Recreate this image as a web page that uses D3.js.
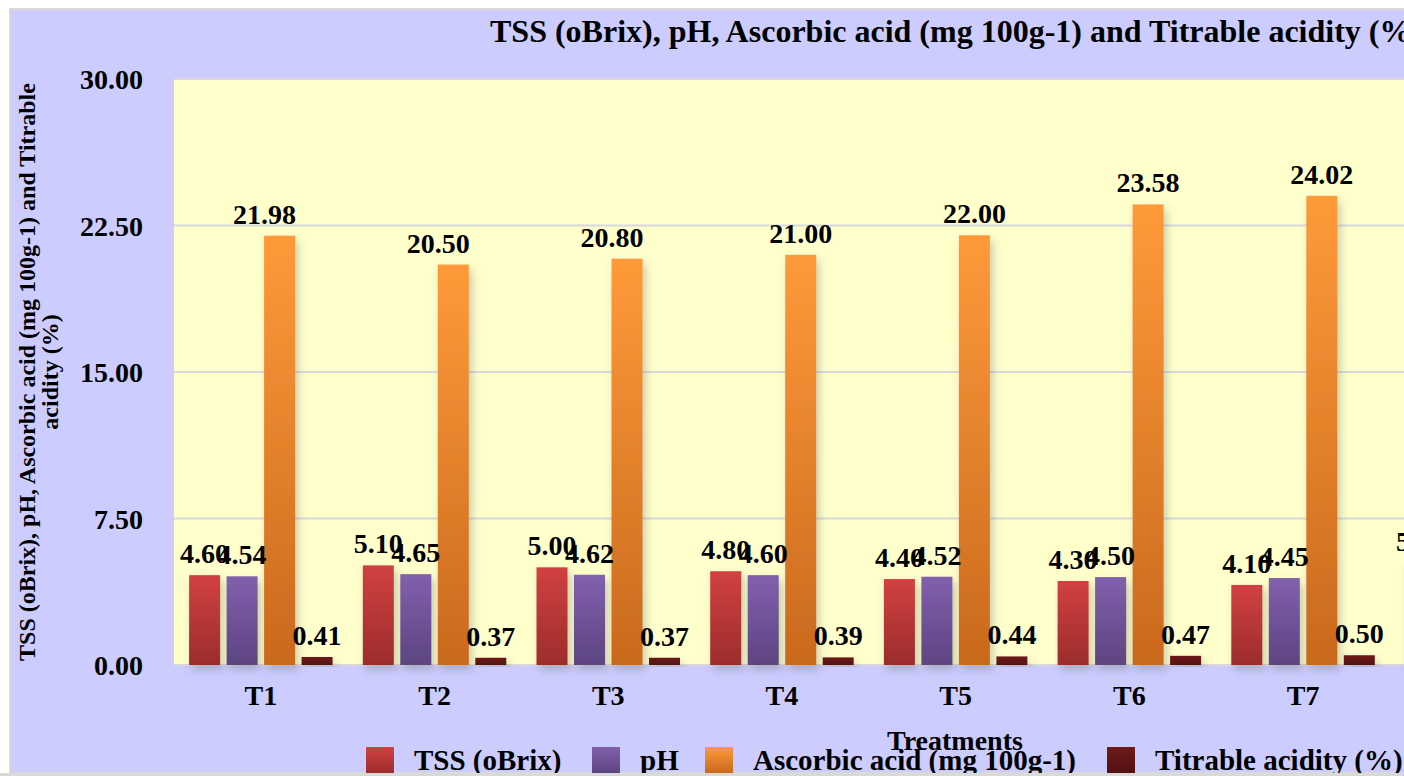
<!DOCTYPE html>
<html>
<head>
<meta charset="utf-8">
<script src="https://cdn.jsdelivr.net/npm/d3@7"></script>
<style>
  body { margin: 0; background: #ffffff; overflow: hidden; }
  text { font-family: "Liberation Serif", "Times New Roman", serif; font-weight: bold; fill: #000; }
</style>
</head>
<body>
<div id="chart"></div>
<script>
// data
const treatments = ["T1", "T2", "T3", "T4", "T5", "T6", "T7", "T8"];
const seriesNames = ["TSS (oBrix)", "pH", "Ascorbic acid (mg 100g-1)", "Titrable acidity (%)"];
const tss = [4.60, 5.10, 5.00, 4.80, 4.40, 4.30, 4.10, 5.20];
const ph = [4.54, 4.65, 4.62, 4.60, 4.52, 4.50, 4.45, 4.40];
const ascorbic = [21.98, 20.50, 20.80, 21.00, 22.00, 23.58, 24.02, 24.50];
const titrable = [0.41, 0.37, 0.37, 0.39, 0.44, 0.47, 0.50, 0.52];
const yTicks = [0, 7.5, 15, 22.5, 30];

const seriesValues = [tss, ph, ascorbic, titrable];
const colorsTop = ["#d24141", "#8160ad", "#ff9a3a", "#701a1a"];
const colorsBottom = ["#9c2c2c", "#5d4481", "#c9691d", "#521111"];

const svg = d3.select("#chart").append("svg")
    .attr("width", 1404)
    .attr("height", 776);

// plot area bounds
const plot = {left: 174, top: 79, bottom: 665, step: 173.7};

const defs = svg.append("defs");
seriesNames.forEach(function(s, i) {
    const grad = defs.append("linearGradient")
        .attr("id", "grad" + i)
        .attr("x1", 0).attr("y1", 0).attr("x2", 0).attr("y2", 1);
    grad.append("stop").attr("offset", "0%").attr("stop-color", colorsTop[i]);
    grad.append("stop").attr("offset", "100%").attr("stop-color", colorsBottom[i]);
});
const shadow = defs.append("filter").attr("id", "shadow")
    .attr("x", "-50%").attr("y", "-20%").attr("width", "200%").attr("height", "140%");
shadow.append("feDropShadow")
    .attr("dx", 3).attr("dy", 5).attr("stdDeviation", 4)
    .attr("flood-color", "#666").attr("flood-opacity", 0.35);

// outer chart background
svg.append("rect")
    .attr("x", 10).attr("y", 9)
    .attr("width", 1500).attr("height", 764)
    .attr("fill", "#ccccff")
    .attr("stroke", "#d9d9d9")
    .attr("stroke-width", 2);

// scales
const x0 = d3.scaleBand()
    .domain(treatments)
    .range([plot.left, plot.left + plot.step * treatments.length]);

const inner = 143.5;
const x1 = d3.scaleBand()
    .domain(d3.range(seriesNames.length))
    .range([(x0.bandwidth() - inner) / 2, (x0.bandwidth() + inner) / 2])
    .paddingInner(0.173);

const y = d3.scaleLinear().domain([0, 30]).range([plot.bottom, plot.top]);

// plot area
svg.append("rect")
    .attr("x", plot.left).attr("y", plot.top)
    .attr("width", 1500).attr("height", plot.bottom - plot.top)
    .attr("fill", "#ffffcc");

// gridlines
svg.append("g")
    .selectAll("line")
    .data(yTicks)
    .enter().append("line")
    .attr("x1", plot.left).attr("x2", 1404)
    .attr("y1", d => y(d)).attr("y2", d => y(d))
    .attr("stroke", "#d8d8de")
    .attr("stroke-width", 2);

// y axis labels
const yAxis = svg.append("g")
    .attr("transform", "translate(143,0)")
    .call(d3.axisLeft(y).tickValues(yTicks).tickFormat(d3.format(".2f")).tickSize(0).tickPadding(0));
yAxis.select(".domain").remove();
yAxis.selectAll("text")
    .style("font-family", "Liberation Serif, serif")
    .style("font-weight", "bold")
    .style("font-size", "28px")
    .attr("dy", "0.35em");

// bars
const groups = svg.append("g")
    .selectAll("g")
    .data(treatments)
    .enter().append("g")
    .attr("transform", d => "translate(" + x0(d) + ",0)");

groups.selectAll("rect")
    .data((d, i) => seriesValues.map((vals, s) => ({s: s, v: vals[i]})))
    .enter().append("rect")
    .attr("x", d => x1(d.s))
    .attr("y", d => y(d.v))
    .attr("width", x1.bandwidth())
    .attr("height", d => y(0) - y(d.v))
    .attr("fill", d => "url(#grad" + d.s + ")")
    .attr("filter", "url(#shadow)");

// value labels (the first three ascorbic labels sit a bit to the left in the original)
const nudge = function(s, i) { return (s === 2 && i < 3) ? -15 : 0; };
groups.selectAll("text.val")
    .data((d, i) => seriesValues.map((vals, s) => ({s: s, i: i, v: vals[i]})))
    .enter().append("text")
    .attr("class", "val")
    .attr("x", d => x1(d.s) + x1.bandwidth() / 2 + nudge(d.s, d.i))
    .attr("y", d => y(d.v) - 12)
    .attr("text-anchor", "middle")
    .style("font-size", "28px")
    .text(d => d.v.toFixed(2));

// category labels
svg.append("g")
    .selectAll("text")
    .data(treatments)
    .enter().append("text")
    .attr("x", d => x0(d) + x0.bandwidth() / 2)
    .attr("y", 705)
    .attr("text-anchor", "middle")
    .style("font-size", "28px")
    .text(d => d);

// axis titles
svg.append("text")
    .attr("x", 955).attr("y", 750)
    .attr("text-anchor", "middle")
    .style("font-size", "28px")
    .text("Treatments");

const yTitle = svg.append("text")
    .attr("transform", "translate(35,372) rotate(-90)")
    .attr("text-anchor", "middle")
    .style("font-size", "24px");
yTitle.append("tspan").attr("x", 0).attr("y", 0)
    .text("TSS (oBrix), pH, Ascorbic acid (mg 100g-1) and Titrable");
yTitle.append("tspan").attr("x", 0).attr("y", 23)
    .text("acidity (%)");

// chart title
svg.append("text")
    .attr("x", 490).attr("y", 42)
    .style("font-size", "32px")
    .text("TSS (oBrix), pH, Ascorbic acid (mg 100g-1) and Titrable acidity (%)");

// legend
const legendX = [366, 592, 705, 1107];
const legend = svg.append("g")
    .selectAll("g")
    .data(seriesNames)
    .enter().append("g")
    .attr("transform", (d, i) => "translate(" + legendX[i] + ",747)");
legend.append("rect")
    .attr("width", 28).attr("height", 26)
    .attr("fill", (d, i) => "url(#grad" + i + ")");
legend.append("text")
    .attr("x", 48).attr("y", 23)
    .style("font-size", "29px")
    .text(d => d);

// bottom border strip
svg.append("rect")
    .attr("x", 0).attr("y", 773)
    .attr("width", 1404).attr("height", 3)
    .attr("fill", "#d9d9d9");
</script>
</body>
</html>
